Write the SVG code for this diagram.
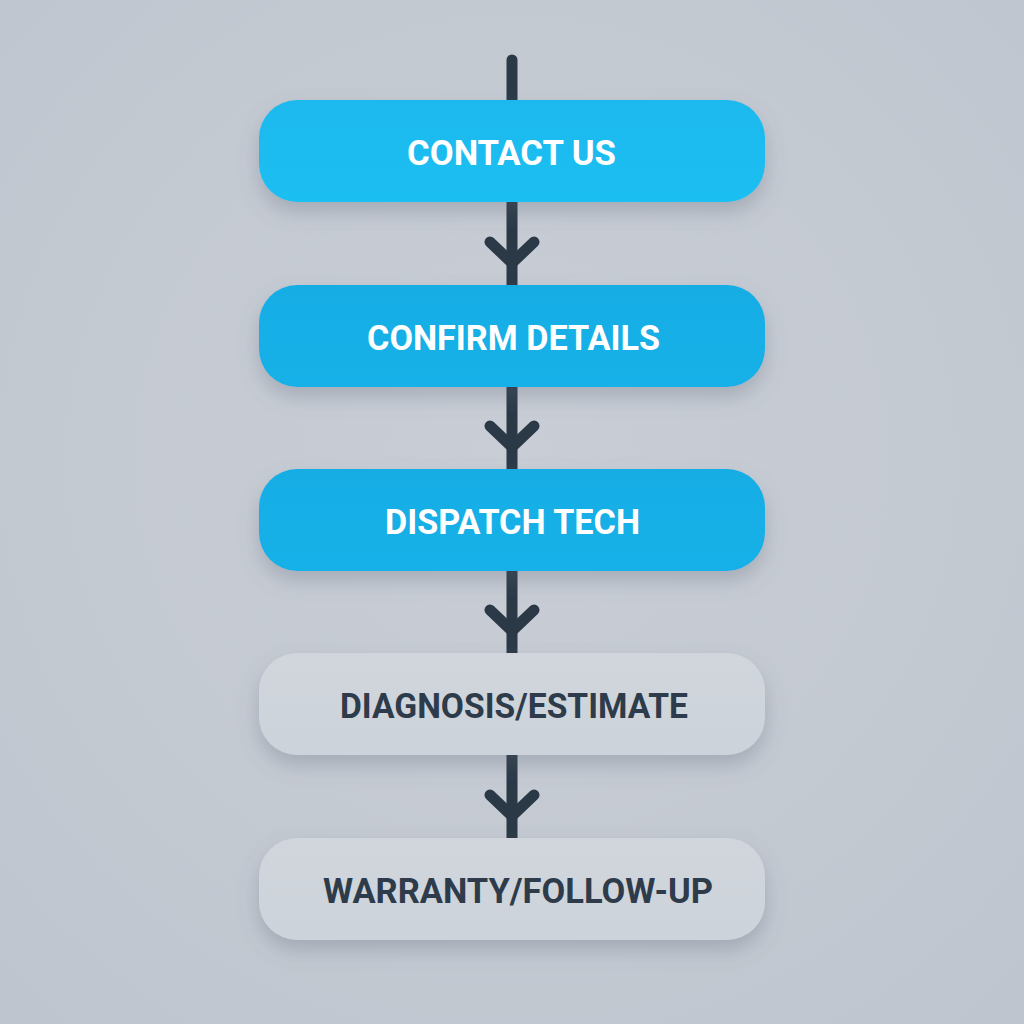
<svg xmlns="http://www.w3.org/2000/svg" width="1024" height="1024" viewBox="0 0 1024 1024">
  <defs>
    <radialGradient id="bg" cx="50%" cy="45%" r="75%">
      <stop offset="0" stop-color="#c9ced6"/>
      <stop offset="1" stop-color="#bfc5ce"/>
    </radialGradient>
    <linearGradient id="blue1" x1="0" y1="0" x2="0" y2="1">
      <stop offset="0" stop-color="#1cb9ee"/>
      <stop offset="1" stop-color="#1fbff2"/>
    </linearGradient>
    <linearGradient id="blue" x1="0" y1="0" x2="0" y2="1">
      <stop offset="0" stop-color="#14ade5"/>
      <stop offset="1" stop-color="#17b1e8"/>
    </linearGradient>
    <linearGradient id="grey" x1="0" y1="0" x2="0" y2="1">
      <stop offset="0" stop-color="#d0d6dc"/>
      <stop offset="1" stop-color="#cdd3da"/>
    </linearGradient>
    <filter id="shadow" x="-20%" y="-30%" width="140%" height="180%">
      <feDropShadow dx="0" dy="10" stdDeviation="10" flood-color="#5a6578" flood-opacity="0.3"/>
    </filter>
    <style>
      .box { filter: url(#shadow); }
      .label { font-family: Roboto, "Liberation Sans", sans-serif; font-weight: 700; font-size: 35px; text-anchor: middle; }
      .light { fill: #ffffff; }
      .dark { fill: #2e3b4a; }
      .conn { stroke: #2b3947; stroke-width: 11; fill: none; stroke-linecap: round; stroke-linejoin: round; }
      .line { stroke: #2b3947; stroke-width: 11; fill: none; stroke-linecap: butt; }
    </style>
  </defs>
  <rect width="1024" height="1024" fill="url(#bg)"/>

  <g id="connectors">
    <path class="conn" d="M512 60 L512 104"/>
    <path class="line" d="M512 200 L512 287"/>
    <path class="conn" d="M490 242 L512 263 L534 242"/>
    <path class="line" d="M512 385 L512 471"/>
    <path class="conn" d="M490 426 L512 447 L534 426"/>
    <path class="line" d="M512 569 L512 655"/>
    <path class="conn" d="M490 610 L512 631 L534 610"/>
    <path class="line" d="M512 753 L512 840"/>
    <path class="conn" d="M490 795 L512 816 L534 795"/>
  </g>

  <g id="node-contact-us">
    <rect class="box" x="259" y="100" width="506" height="102" rx="38" fill="url(#blue1)"/>
    <text class="label light" x="511.5" y="165" textLength="209" lengthAdjust="spacingAndGlyphs">CONTACT US</text>
  </g>
  <g id="node-confirm-details">
    <rect class="box" x="259" y="285" width="506" height="102" rx="38" fill="url(#blue)"/>
    <text class="label light" x="513.5" y="350" textLength="293" lengthAdjust="spacingAndGlyphs">CONFIRM DETAILS</text>
  </g>
  <g id="node-dispatch-tech">
    <rect class="box" x="259" y="469" width="506" height="102" rx="38" fill="url(#blue)"/>
    <text class="label light" x="512.5" y="534" textLength="255" lengthAdjust="spacingAndGlyphs">DISPATCH TECH</text>
  </g>
  <g id="node-diagnosis-estimate">
    <rect class="box" x="259" y="653" width="506" height="102" rx="38" fill="url(#grey)"/>
    <text class="label dark" x="514" y="718" textLength="348" lengthAdjust="spacingAndGlyphs">DIAGNOSIS/ESTIMATE</text>
  </g>
  <g id="node-warranty-follow-up">
    <rect class="box" x="259" y="838" width="506" height="102" rx="38" fill="url(#grey)"/>
    <text class="label dark" x="518" y="903" textLength="390" lengthAdjust="spacingAndGlyphs">WARRANTY/FOLLOW-UP</text>
  </g>
</svg>
